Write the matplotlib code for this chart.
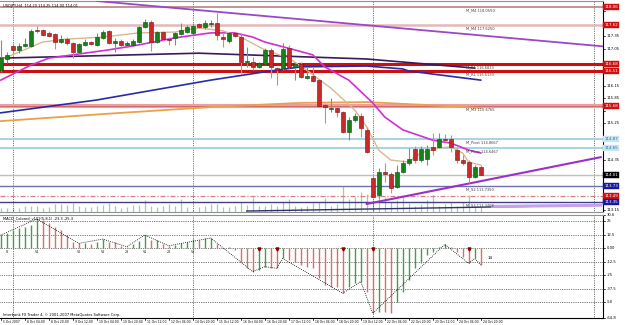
import matplotlib
matplotlib.use("Agg")
import matplotlib.pyplot as plt
from matplotlib.patches import Rectangle

# ---------------- data ----------------
symbol_title = "USDJPY,H4  114.20 114.25 114.00 114.01"
macd_title = "MACD_Colored_v102(5,8,1) -23.3 -25.3"
copyright_text = "Interbank FX Trader 4, \u00a9 2001-2007 MetaQuotes Software Corp."

opens = [116.53, 116.80, 117.11, 117.02, 117.11, 117.11, 117.50, 117.50, 117.43, 117.40,
         117.21, 117.28, 117.19, 116.97, 117.14, 117.21, 117.14, 117.31, 117.48, 117.19,
         117.23, 117.14, 117.14, 117.21, 117.57, 117.69, 117.21, 117.45, 117.28, 117.31,
         117.40, 117.45, 117.43, 117.65, 117.57, 117.65, 117.67, 117.33, 117.23, 117.43,
         117.33, 116.73, 116.73, 116.61, 116.68, 117.02, 116.58, 116.58, 117.06, 116.61,
         116.68, 116.34, 116.39, 116.29, 115.69, 115.59, 115.62, 115.52, 115.04, 115.33,
         115.42, 115.09, 113.93, 113.52, 114.07, 114.02, 113.71, 114.07, 114.29, 114.63,
         114.36, 114.39, 114.68, 114.68, 114.87, 114.87, 114.60, 114.36, 114.31, 113.95,
         114.20]
highs = [117.26, 116.97, 117.19, 117.19, 117.31, 117.52, 117.60, 117.52, 117.48, 117.43,
         117.38, 117.33, 117.21, 117.19, 117.28, 117.23, 117.43, 117.50, 117.50, 117.31,
         117.28, 117.23, 117.28, 117.60, 117.77, 117.74, 117.48, 117.48, 117.33, 117.45,
         117.67, 117.62, 117.67, 117.67, 117.74, 117.74, 117.91, 117.43, 117.45, 117.45,
         117.43, 117.09, 116.85, 116.73, 117.07, 117.07, 116.61, 117.19, 117.14, 116.73,
         116.73, 116.61, 116.61, 116.32, 115.74, 115.86, 115.69, 115.545, 115.40, 115.50,
         115.50, 115.16, 114.00, 114.17, 114.29, 114.07, 114.24, 114.36, 114.65, 114.70,
         114.70, 114.72, 115.01, 115.01, 114.99, 114.97, 114.65, 114.48, 114.36, 114.24,
         114.25]
lows = [116.49, 116.70, 116.94, 116.94, 117.09, 117.09, 117.43, 117.36, 117.33, 117.04,
        117.19, 117.14, 116.82, 116.94, 117.11, 117.14, 117.11, 117.28, 117.16, 116.97,
        117.09, 117.09, 117.11, 117.19, 117.55, 116.99, 117.19, 117.23, 117.14, 117.14,
        117.38, 117.43, 117.38, 117.55, 117.52, 117.57, 117.26, 117.09, 117.19, 117.33,
        116.46, 116.61, 116.53, 116.58, 116.66, 116.34, 116.17, 116.53, 116.58, 116.29,
        116.34, 116.32, 116.25, 115.64, 115.26, 115.52, 115.40, 115.01, 114.84, 115.28,
        114.92, 114.53, 113.44, 113.44, 113.83, 113.57, 113.69, 114.05, 114.24, 114.29,
        114.31, 114.24, 114.48, 114.65, 114.80, 114.55, 114.29, 114.24, 113.81, 113.93,
        114.00]
closes = [116.82, 116.90, 117.02, 117.11, 117.16, 117.48, 117.48, 117.38, 117.36, 117.21,
          117.28, 117.19, 116.97, 117.16, 117.21, 117.16, 117.33, 117.45, 117.19, 117.23,
          117.14, 117.19, 117.23, 117.57, 117.69, 117.21, 117.45, 117.28, 117.27, 117.43,
          117.50, 117.57, 117.60, 117.57, 117.67, 117.67, 117.38, 117.28, 117.43, 117.36,
          116.73, 116.75, 116.61, 116.70, 117.02, 116.61, 116.53, 117.04, 116.61, 116.68,
          116.37, 116.39, 116.27, 115.66, 115.64, 115.62, 115.52, 115.04, 115.33, 115.42,
          115.13, 114.55, 113.47, 114.07, 114.02, 113.69, 114.07, 114.29, 114.39, 114.36,
          114.63, 114.63, 114.60, 114.87, 114.84, 114.68, 114.36, 114.29, 113.95, 114.19,
          114.01]
volumes = [600, 600, 600, 600, 900, 900, 900, 600, 750, 1200,
           1200, 1050, 1350, 900, 750, 750, 900, 1050, 1350, 900,
           600, 750, 1050, 1050, 1800, 900, 750, 900, 1200, 900,
           1950, 750, 300, 750, 900, 1200, 1200, 750, 750, 900,
           1500, 1050, 2250, 900, 900, 1200, 900, 1500, 1950, 900,
           750, 900, 1350, 1500, 2100, 900, 1200, 3900, 1950, 2250,
           3000, 2700, 1800, 3600, 2250, 1500, 1800, 2250, 1350, 900,
           1200, 1800, 2550, 900, 1200, 1500, 900, 1500, 2550, 900,
           750]
macd_hist = [12.0, 13.6, 16.7, 18.8, 19.8, 21.3, 26.9, 25.9, 22.9, 19.2,
             16.7, 12.0, 5.9, 4.3, 4.8, 3.4, 5.9, 8.3, 5.9, 5.3,
             2.1, 1.2, 3.4, 6.5, 12.0, 7.4, 7.9, 3.4, 2.1, 2.8,
             4.3, 5.9, 8.0, 7.4, 9.0, 9.3, 3.4, 0.3, 0.6, -1.9,
             -12.7, -18.8, -21.9, -20.4, -17.3, -18.2, -18.8, -9.6, -11.1, -12.7,
             -15.7, -17.3, -18.8, -28.1, -34.3, -35.8, -36.0, -42.0, -35.8, -32.7,
             -31.0, -40.4, -60.5, -59.0, -59.5, -60.0, -49.7, -40.4, -29.6, -18.8,
             -14.2, -6.5, -3.4, 1.2, 3.4, 1.2, -3.4, -8.0, -14.2, -9.6,
             -15.7]
zigzag_bars = [0, 6, 13, 17, 21, 24, 28, 35, 42, 44, 46, 47, 57, 60, 62, 74, 78, 79, 80]
pivot_label_bars = [1, 6, 13, 17, 21, 24, 28, 32]
pivot_label_texts = ["8", "V1", "V2", "V1", "28", "V1", "28", "V1"]

# moving averages: (bar, price) vertices
ma_fast_bars = [0, 7, 11, 17, 23, 29, 33, 37, 40, 44, 48, 51, 55, 59, 61, 63, 65, 68, 70, 73, 75, 77, 78, 80]
ma_fast_vals = [116.78, 117.21, 117.28, 117.33, 117.43, 117.45, 117.55, 117.48, 117.33, 117.02, 116.82, 116.53,
                116.10, 115.57, 115.16, 114.60, 114.36, 114.31, 114.53, 114.65, 114.68, 114.53, 114.31, 114.24]
ma_mid_bars = [0, 5, 8, 14, 18, 23, 29, 35, 39, 42, 44, 49, 52, 54, 58, 62, 64, 67, 72, 75, 78, 80]
ma_mid_vals = [116.29, 116.65, 116.82, 116.94, 117.02, 117.14, 117.31, 117.43, 117.43, 117.33, 117.21, 117.02,
               116.90, 116.61, 116.29, 115.74, 115.40, 115.09, 114.84, 114.77, 114.60, 114.53]
ma_dark_bars = [0, 33, 61, 79]
ma_dark_vals = [116.82, 116.94, 116.80, 116.58]
ma_blue_bars = [0, 16, 35, 44, 50, 61, 67, 68, 80]
ma_blue_vals = [115.50, 115.81, 116.29, 116.49, 116.61, 116.63, 116.56, 116.51, 116.29]
ma_orange_bars = [0, 17, 35, 50, 61, 68, 80]
ma_orange_vals = [115.30, 115.47, 115.64, 115.74, 115.76, 115.71, 115.62]

# trend lines: two anchor points each (bar, price)
trend_down = [(16, 118.20), (100, 117.11)]
trend_up = [(61, 113.30), (100, 114.43)]
trend_low = [(41, 113.13), (100, 113.27)]
trend_low_light = [(82, 113.24), (100, 113.27)]

# pivot levels
level_names = ["M_M4", "M_M4", "M_R1", "M_R1", "M_M3", "M_Pivot", "M_Pivot", "M_S2", "", "M_S3"]
level_prices = [118.0550, 117.6250, 116.6833, 116.5133, 115.6765, 114.8667, 114.6467, 113.7350, 113.4900, 113.3468]
last_price = 114.01

price_ticks = [113.15, 113.45, 113.75, 114.05, 114.35, 114.65, 114.95, 115.25, 115.55,
               115.85, 116.15, 116.45, 116.75, 117.05, 117.35, 117.65, 117.95]
macd_levels = [25.0, 12.5, 0.0, -12.5, -25.0, -37.5, -50.0]
macd_tick_labels = ["30.6", "25", "12.5", "0.00", "-12.5", "-25", "-37.5", "-50", "-64.8"]
macd_tick_vals = [30.6, 25.0, 12.5, 0.0, -12.5, -25.0, -37.5, -50.0, -64.8]
separators = [2, 32, 62, 98.9]
time_label_bars = list(range(0, 81, 4))
time_labels = ["5 Oct 2007", "8 Oct 04:00", "8 Oct 20:00", "9 Oct 12:00", "10 Oct 04:00", "10 Oct 20:00",
               "11 Oct 12:00", "12 Oct 04:00", "14 Oct 20:00", "15 Oct 12:00", "16 Oct 04:00",
               "16 Oct 20:00", "17 Oct 12:00", "18 Oct 04:00", "18 Oct 20:00", "19 Oct 12:00",
               "22 Oct 04:00", "22 Oct 20:00", "23 Oct 12:00", "24 Oct 04:00", "24 Oct 20:00"]
signal_marks = [43, 46, 57, 62, 78]
macd_last_label = "14"

# ---------------- figure ----------------
W, H = 625, 325
fig = plt.figure(figsize=(W / 100, H / 100), dpi=100)
fig.patch.set_facecolor("white")


def fx(px):
    return px / W


def fy(py):
    return 1 - py / H


ax = fig.add_axes([0, fy(212), fx(603), fy(1) - fy(212)])
axv = ax.twinx()
ax.set_zorder(axv.get_zorder() + 1)
ax.patch.set_visible(False)
axm = fig.add_axes([0, fy(318), fx(603), fy(215) - fy(318)])

XL = (-0.12, 100.38)
for a in (ax, axv, axm):
    a.set_xlim(*XL)
    a.set_xticks([])
    a.set_yticks([])
ax.set_ylim(113.106, 118.200)
axv.set_ylim(0, 31650)
axm.set_ylim(-64.8, 30.6)

for a in (ax, axv):
    for s in a.spines.values():
        s.set_visible(False)
ax.spines["right"].set_visible(True)
ax.spines["right"].set_color("black")
ax.spines["right"].set_linewidth(0.8)
ax.spines["bottom"].set_visible(True)
ax.spines["bottom"].set_color("#909090")
ax.spines["bottom"].set_linewidth(0.8)
ax.spines["top"].set_visible(True)
ax.spines["top"].set_color("#909090")
for s in axm.spines.values():
    s.set_visible(False)
for k in ("right", "bottom", "top"):
    axm.spines[k].set_visible(True)
    axm.spines[k].set_color("black" if k != "top" else "#909090")
    axm.spines[k].set_linewidth(0.8)

# volume
axv.vlines(range(len(volumes)), 0, volumes, colors="#9ad49a", linewidth=0.9)

# separators
for s in separators:
    ax.axvline(s, color="black", ls=(0, (1, 1.6)), lw=0.5, zorder=1)
    axm.axvline(s, color="black", ls=(0, (1, 1.6)), lw=0.5, zorder=1)

# level lines
level_styles = [
    dict(color="#b88080", lw=1.2), dict(color="#e2b8b8", lw=1.8),
    dict(color="#cc1010", lw=2.2), dict(color="#cc1010", lw=2.2),
    dict(color="#eaa0a0", lw=3.0), dict(color="#a8d2e2", lw=1.4),
    dict(color="#a8d2e2", lw=1.4), dict(color="#7070b0", lw=1.0),
    dict(color="#d88080", lw=0.9, ls=(0, (4, 1.5, 1, 1.5))), dict(color="#404088", lw=1.0),
]
for p, st in zip(level_prices, level_styles):
    ax.axhline(p, zorder=2, **st)
ax.axhline(level_prices[4], color="#d06060", lw=0.6, zorder=2)
ax.axhline(last_price, color="#c0c0c0", lw=1.0, zorder=2)
for n, p in zip(level_names, level_prices):
    if n:
        ax.text(77.6, p - 0.035, f"{n} {p:.4f}", fontsize=2.6, color="#404040",
                ha="left", va="top", zorder=6)

# moving averages
ax.plot(ma_orange_bars, ma_orange_vals, color="#eba04a", lw=1.3, zorder=3)
ax.plot(ma_blue_bars, ma_blue_vals, color="#2a2aa8", lw=1.2, zorder=3)
ax.plot(ma_dark_bars, ma_dark_vals, color="#3c1a5a", lw=1.2, zorder=3)
ax.plot(ma_mid_bars, ma_mid_vals, color="#d030d0", lw=1.2, zorder=3)
ax.plot(ma_fast_bars, ma_fast_vals, color="#d8b890", lw=1.0, zorder=3)


def seg(a, pts, **kw):
    (x0, y0), (x1, y1) = pts
    a.plot([x0, x1], [y0, y1], **kw)


ax.axline(trend_down[0], trend_down[1], color="#9a48c8", lw=1.3, zorder=3)
seg(ax, trend_up, color="#9a30c8", lw=1.5, zorder=3)
seg(ax, trend_low, color="#303070", lw=1.0, zorder=3)
seg(ax, trend_low_light, color="#c8a0e8", lw=2.2, zorder=3)

# candles
for i, (o, h, l, c) in enumerate(zip(opens, highs, lows, closes)):
    up = c >= o
    wick = "#6c9c6c" if up else "#d08a8a"
    body = "#17801a" if up else "#c82a2a"
    edge = "#0c4a0c" if up else "#7a1010"
    ax.vlines(i, l, h, colors=wick, lw=0.8, zorder=4)
    bot = min(o, c)
    ht = max(abs(c - o), 0.012)
    ax.add_patch(Rectangle((i - 0.34, bot), 0.68, ht, facecolor=body, edgecolor=edge, lw=0.4, zorder=5))

# price axis labels (hidden where a price box sits on top, as in the terminal)
ytr = ax.get_yaxis_transform()
box_prices = level_prices + [last_price]
for t in price_ticks:
    ax.plot([1.0, 1.004], [t, t], transform=ytr, color="black", lw=0.5, clip_on=False)
    if min(abs(t - bp) for bp in box_prices) < 0.15:
        continue
    ax.text(1.006, t, f"{t:.2f}", transform=ytr, fontsize=2.7, ha="left", va="center", color="black")

box_styles = [("#d01010", "white"), ("#d01010", "white"), ("#d01010", "white"), ("#d01010", "white"),
              ("#d01010", "white"), ("#c8e4f0", "#3070a0"), ("#c8e4f0", "#3070a0"),
              ("#1818a0", "white"), ("#d01010", "white"), ("#1818a0", "white")]
for p, (fc, tc) in zip(level_prices, box_styles):
    ax.text(1.002, p, f"{p:.2f}", transform=ytr, fontsize=2.9, ha="left", va="center", color=tc,
            bbox=dict(boxstyle="square,pad=0.25", fc=fc, ec=fc, lw=0.3), zorder=10)
ax.text(1.002, last_price, f"{last_price:.2f}", transform=ytr, fontsize=2.9, ha="left", va="center",
        color="white", bbox=dict(boxstyle="square,pad=0.25", fc="black", ec="black", lw=0.3), zorder=11)

ax.text(0.005, 0.985, symbol_title, transform=ax.transAxes, fontsize=2.6, ha="left", va="top", color="black")

# MACD panel
for lv in macd_levels:
    axm.axhline(lv, color="black", ls=(0, (1, 1.6)), lw=0.5, zorder=1)
prev = None
for i, v in enumerate(macd_hist):
    col = "#4a9a4a" if (prev is None or v >= prev) else "#e06a6a"
    axm.vlines(i, 0, v, colors=col, lw=1.0, zorder=2)
    prev = v
axm.plot(zigzag_bars, [macd_hist[b] for b in zigzag_bars], color="black", ls=(0, (1, 1.4)), lw=0.6, zorder=3)
axm.plot(signal_marks, [-1.0] * len(signal_marks), ls="none", marker="v", ms=2.2, color="#8b0000", zorder=4)
for b, t in zip(pivot_label_bars, pivot_label_texts):
    axm.text(b, -1.5, t, fontsize=2.4, color="#202020", ha="center", va="top", zorder=4)
axm.text(81.2, -9.5, macd_last_label, fontsize=2.8, color="black", ha="left", va="center")
axm.text(0.005, 0.985, macd_title, transform=axm.transAxes, fontsize=2.6, ha="left", va="top")
axm.text(0.005, 0.01, copyright_text, transform=axm.transAxes, fontsize=2.6, ha="left", va="bottom")

ytm = axm.get_yaxis_transform()
for v, lab in zip(macd_tick_vals, macd_tick_labels):
    axm.text(1.006, v, lab, transform=ytm, fontsize=2.7, ha="left", va="center")
    axm.plot([1.0, 1.004], [v, v], transform=ytm, color="black", lw=0.5, clip_on=False)

xtm = axm.get_xaxis_transform()
for b, lab in zip(time_label_bars, time_labels):
    axm.text(b + 0.3, -0.035, lab, transform=xtm, fontsize=2.2, ha="left", va="center")
    axm.plot([b, b], [0, -0.02], transform=xtm, color="black", lw=0.5, clip_on=False)

fig.savefig("out.png", dpi=100, facecolor="white")
